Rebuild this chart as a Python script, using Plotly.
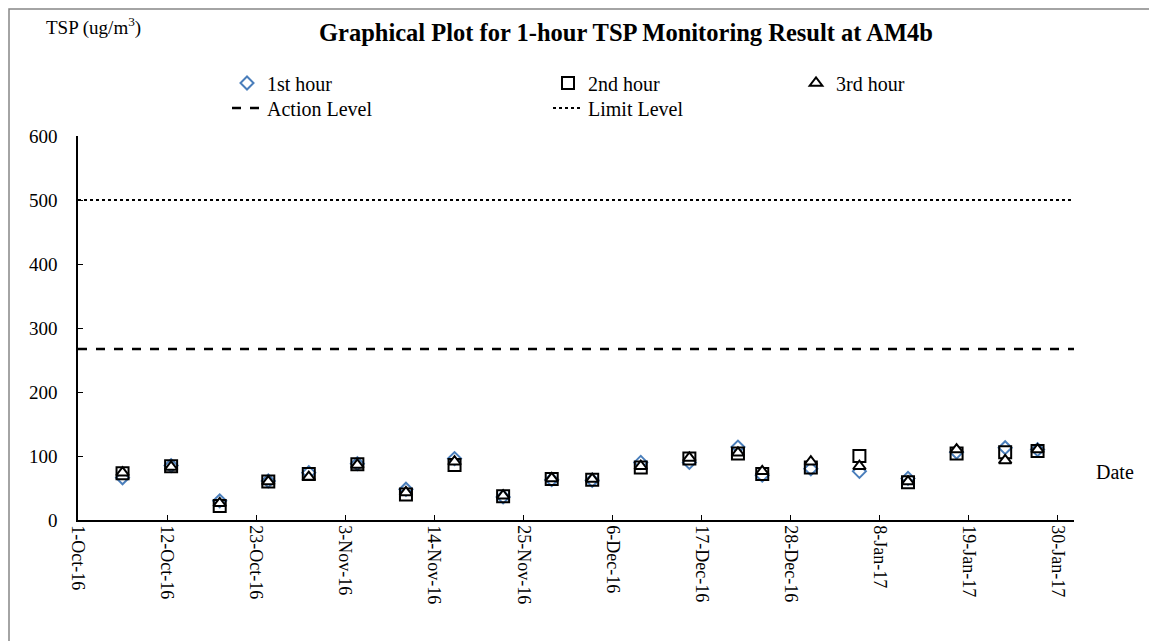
import pandas as pd
import plotly.graph_objects as go

# ---------------- data ----------------
dates = ["2016-10-06", "2016-10-12", "2016-10-18", "2016-10-24", "2016-10-29",
         "2016-11-04", "2016-11-10", "2016-11-16", "2016-11-22", "2016-11-28",
         "2016-12-03", "2016-12-09", "2016-12-15", "2016-12-21", "2016-12-24",
         "2016-12-30", "2017-01-05", "2017-01-11", "2017-01-17", "2017-01-23",
         "2017-01-27"]
hour1 = [66, 85, 30, 61, 74, 88, 48, 96, 36, 63, 62, 90, 90, 114, 70, 80, 76, 65, 106, 113, 110]
hour2 = [73, 84, 22, 60, 72, 87, 40, 86, 37, 64, 63, 82, 96, 104, 72, 82, 100, 59, 104, 106, 108]
hour3 = [74, 83, 26, 60, 67, 86, 43, 91, 38, 65, 64, 84, 97, 105, 76, 91, 84, 60, 110, 93, 110]
action_level = 267
limit_level = 500
axis_start = "2016-10-01"
axis_end = "2017-02-01"
y_ticks = [0, 100, 200, 300, 400, 500, 600]

FONT = "Times New Roman, Liberation Serif, serif"
BLUE = "#4A7EBB"

# Excel date axis places each day's point in the middle of its day slot
xd = pd.to_datetime(dates) + pd.Timedelta(hours=12)

fig = go.Figure()
fig.add_trace(go.Scatter(x=xd, y=hour1, mode="markers", name="1st hour", legend="legend",
                         marker=dict(symbol="diamond-open", size=10, color=BLUE,
                                     line=dict(width=2, color=BLUE))))
fig.add_trace(go.Scatter(x=xd, y=hour2, mode="markers", name="2nd hour", legend="legend2",
                         marker=dict(symbol="square-open", size=12, color="black",
                                     line=dict(width=2, color="black"))))
fig.add_trace(go.Scatter(x=xd, y=hour3, mode="markers", name="3rd hour", legend="legend3",
                         marker=dict(symbol="triangle-up", size=11, color="white",
                                     line=dict(width=2, color="black"))))
fig.add_trace(go.Scatter(x=[axis_start, axis_end], y=[action_level, action_level],
                         mode="lines", name="Action Level", legend="legend4",
                         line=dict(color="black", width=2.5, dash="dash")))
fig.add_trace(go.Scatter(x=[axis_start, axis_end], y=[limit_level, limit_level],
                         mode="lines", name="Limit Level", legend="legend5",
                         line=dict(color="black", width=2, dash="dot")))

leg_common = dict(orientation="v", yanchor="middle", xanchor="left",
                  bgcolor="rgba(0,0,0,0)", borderwidth=0,
                  font=dict(family=FONT, size=20, color="black"), tracegroupgap=0)

# page has an 8px body margin; plot area spans 996 x 384 px
PW, PH = 996, 384
row1 = (520 - 83) / PH
row2 = (520 - 108) / PH

fig.update_layout(
    width=1157, height=641,
    margin=dict(l=70, r=1157 - 70 - PW, t=128, b=641 - 128 - PH, autoexpand=False),
    paper_bgcolor="white", plot_bgcolor="white",
    font=dict(family=FONT, color="black"),
    showlegend=True,
    legend=dict(x=0.1496, y=row1, **leg_common),
    legend2=dict(x=0.4719, y=row1, **leg_common),
    legend3=dict(x=0.7209, y=row1, **leg_common),
    legend4=dict(x=0.1496, y=row2, **leg_common),
    legend5=dict(x=0.4719, y=row2, **leg_common),
    xaxis=dict(type="date", range=[axis_start, axis_end], automargin=False,
               tick0=axis_start, dtick=11 * 86400000, tickformat="%-d-%b-%y",
               tickangle=90, ticks="inside", ticklen=5, tickcolor="black",
               showline=True, linecolor="black", linewidth=1.5, showgrid=False,
               zeroline=False, tickfont=dict(family=FONT, size=18, color="black"),
               ticklabelstandoff=0),
    yaxis=dict(range=[0, 600], tickvals=y_ticks, ticks="inside", ticklen=5,
               automargin=False,
               tickcolor="black", showline=True, linecolor="black", linewidth=1.5,
               showgrid=False, zeroline=False,
               tickfont=dict(family=FONT, size=19, color="black"),
               ticklabelstandoff=15),
)

fig.add_annotation(text="<b>Graphical Plot for 1-hour TSP Monitoring Result at AM4b</b>",
                   xref="paper", yref="paper", x=(626 - 78) / PW, y=(520 - 33) / PH,
                   xanchor="center", yanchor="middle", showarrow=False,
                   font=dict(family=FONT, size=24.5, color="black"))
fig.add_annotation(text="TSP (ug/m<sup>3</sup>)", xref="paper", yref="paper",
                   x=(44 - 78) / PW, y=(520 - 26) / PH, xanchor="left", yanchor="middle",
                   showarrow=False, font=dict(family=FONT, size=19, color="black"))
fig.add_annotation(text="Date", xref="paper", yref="paper", x=(1094 - 78) / PW,
                   y=(520 - 472) / PH, xanchor="left", yanchor="middle", showarrow=False,
                   font=dict(family=FONT, size=20, color="black"))

# outer chart border (top and left edges visible); kept just inside the figure
fig.add_shape(type="rect", xref="paper", yref="paper",
              x0=-69 / PW, x1=1.2, y0=-0.5, y1=(PH + 127) / PH,
              line=dict(color="#868686", width=1.5), fillcolor="rgba(0,0,0,0)")

fig.write_html("out.html")
